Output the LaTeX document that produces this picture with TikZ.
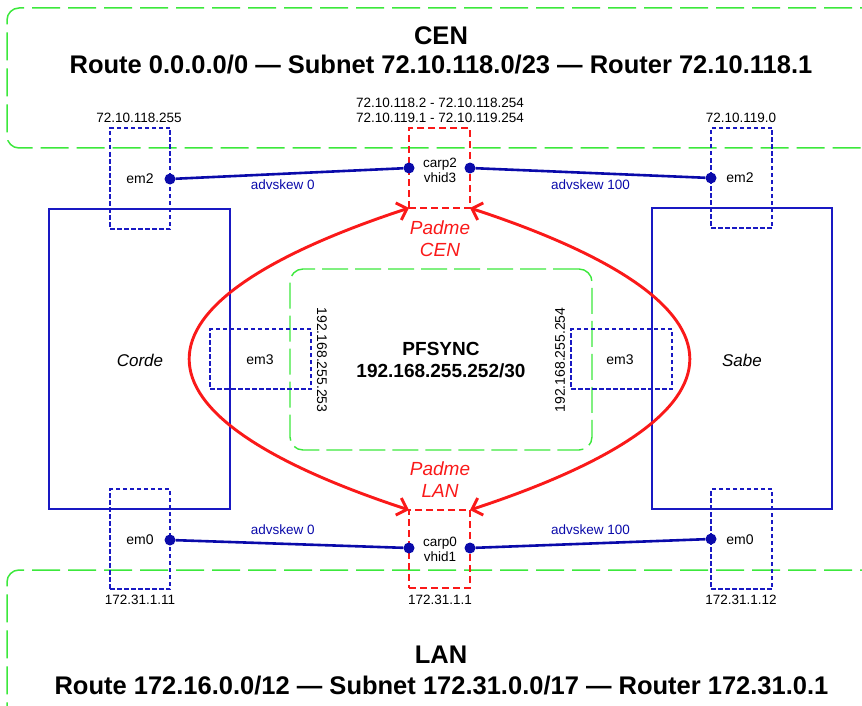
\documentclass[tikz,border=0pt]{standalone}
\usepackage{fontspec}
\setmainfont{Liberation Sans}
\usetikzlibrary{arrows.meta}
\definecolor{gr}{RGB}{60,232,60}
\definecolor{bl}{RGB}{25,25,195}
\definecolor{dbl}{RGB}{10,10,170}
\definecolor{rd}{RGB}{250,25,25}
\begin{document}
\begin{tikzpicture}[x=1pt,y=-1pt,
  greenzone/.style={draw=gr, line width=1.5pt, dash pattern=on 28pt off 8pt, rounded corners=12pt, rectangle, inner sep=0pt},
  syncarea/.style={draw=gr, line width=1.4pt, dash pattern=on 26pt off 7pt, rounded corners=13pt, rectangle, inner sep=0pt},
  router/.style={draw=bl, line width=1.3pt, rectangle, inner sep=0pt},
  iface/.style={draw=bl, line width=1.1pt, dash pattern=on 4.5pt off 2.5pt, rectangle, inner sep=0pt},
  carpbox/.style={draw=rd, line width=2.8pt, dash pattern=on 7pt off 4pt, rectangle, inner sep=0pt},
  dotnode/.style={circle, fill=dbl, inner sep=0pt, minimum size=11pt},
  link/.style={draw=dbl, line width=2.6pt},
  failover/.style={draw=rd, line width=2.9pt, {Straight Barb[length=9pt,width=18pt]}-{Straight Barb[length=9pt,width=18pt]}},
  bigtitle/.style={font=\fontsize{25.5}{30}\selectfont\bfseries, inner sep=0pt},
  midtitle/.style={font=\fontsize{19}{22}\selectfont\bfseries, align=center, inner sep=0pt},
  addr/.style={font=\fontsize{13.5}{15}\selectfont, inner sep=0pt, align=center},
  ifname/.style={font=\fontsize{14}{16}\selectfont, inner sep=0pt, align=center},
  skew/.style={font=\fontsize{13.5}{15}\selectfont, text=dbl, inner sep=0pt},
  hostname/.style={font=\fontsize{17}{20}\selectfont\itshape, inner sep=0pt},
  padme/.style={font=\fontsize{19}{22}\selectfont\itshape, text=rd, align=center, inner sep=0pt}
]
\useasboundingbox (0,0) rectangle (862,706);
\clip (0,0) rectangle (862,706);

% zones
\node[greenzone, minimum width=893pt, minimum height=140pt] (cenzone) at (453.5,78) {};
\node[greenzone, minimum width=893pt, minimum height=170pt] (lanzone) at (453.5,655) {};
\node[syncarea, minimum width=302pt, minimum height=181pt] (sync) at (441,359.5) {};

% routers
\node[router, minimum width=181pt, minimum height=300pt] (corde) at (139.5,359) {};
\node[router, minimum width=180pt, minimum height=301pt] (sabe) at (742,358.5) {};

% interfaces
\node[iface, minimum width=60pt, minimum height=101pt] (em2l) at (140,178.5) {};
\node[iface, minimum width=61pt, minimum height=100pt] (em2r) at (741.5,178) {};
\node[iface, minimum width=60pt, minimum height=100pt] (em0l) at (140,539) {};
\node[iface, minimum width=61pt, minimum height=100pt] (em0r) at (741.5,539) {};
\node[iface, minimum width=101pt, minimum height=60pt] (em3l) at (260.5,359) {};
\node[iface, minimum width=101pt, minimum height=60pt] (em3r) at (621.5,359) {};

% carp boxes
\node[carpbox, minimum width=61pt, minimum height=80pt] (carp2) at (439.5,168) {};
\node[carpbox, minimum width=61pt, minimum height=78pt] (carp0) at (439.5,549) {};

% failover arcs
\coordinate (ctl) at (409,208);
\coordinate (cbl) at (409,510);
\coordinate (ctr) at (470,208);
\coordinate (cbr) at (470,510);
\draw[failover] (ctl) .. controls (117,304) and (117,414) .. (cbl);
\draw[failover] (ctr) .. controls (762,304) and (762,414) .. (cbr);

% dots
\node[dotnode] (d2l) at (170,179) {};
\node[dotnode] (d2r) at (711,178) {};
\node[dotnode] (c2l) at (409,168) {};
\node[dotnode] (c2r) at (470,168) {};
\node[dotnode] (d0l) at (170,540) {};
\node[dotnode] (d0r) at (711,539) {};
\node[dotnode] (c0l) at (409,548) {};
\node[dotnode] (c0r) at (470,548) {};

% links
\draw[link] (d2l) -- node[skew, pos=0.47, below=5pt] {advskew 0} (c2l);
\draw[link] (c2r) -- node[skew, pos=0.5, below=5pt] {advskew 100} (d2r);
\draw[link] (d0l) -- node[skew, pos=0.47, above=8pt] {advskew 0} (c0l);
\draw[link] (c0r) -- node[skew, pos=0.5, above=8pt] {advskew 100} (d0r);

% titles
\node[bigtitle] (centitle) at (441,36) {CEN};
\node[bigtitle] (censub) at (441,65) {Route 0.0.0.0/0 — Subnet 72.10.118.0/23 — Router 72.10.118.1};
\node[bigtitle] (lantitle) at (441,655) {LAN};
\node[bigtitle] (lansub) at (441.5,686) {Route 172.16.0.0/12 — Subnet 172.31.0.0/17 — Router 172.31.0.1};
\node[midtitle] (synctitle) at (441,360) {PFSYNC\\192.168.255.252/30};

% addresses
\node[addr] (a1) at (139,118) {72.10.118.255};
\node[addr] (a2) at (741,118) {72.10.119.0};
\node[addr] (a3) at (440,110) {72.10.118.2 - 72.10.118.254\\72.10.119.1 - 72.10.119.254};
\node[addr] (a4) at (140,600) {172.31.1.11};
\node[addr] (a5) at (440,600) {172.31.1.1};
\node[addr] (a6) at (741,600) {172.31.1.12};
\node[addr, rotate=-90, font=\fontsize{14}{16}\selectfont] (a7) at (322,360) {192.168.255.253};
\node[addr, rotate=90, font=\fontsize{14}{16}\selectfont] (a8) at (560,360) {192.168.255.254};

% interface names
\node[ifname] at (140,179) {em2};
\node[ifname] at (740,178) {em2};
\node[ifname] at (140,540) {em0};
\node[ifname] at (740,540) {em0};
\node[ifname] at (260,360) {em3};
\node[ifname] at (620,360) {em3};
\node[addr] at (440,170) {carp2\\vhid3};
\node[addr] at (440,549) {carp0\\vhid1};

% hosts
\node[hostname] at (140,360) {Corde};
\node[hostname] at (742,360) {Sabe};
\node[padme] at (440,239) {Padme\\CEN};
\node[padme] at (440,480) {Padme\\LAN};
\end{tikzpicture}
\end{document}
